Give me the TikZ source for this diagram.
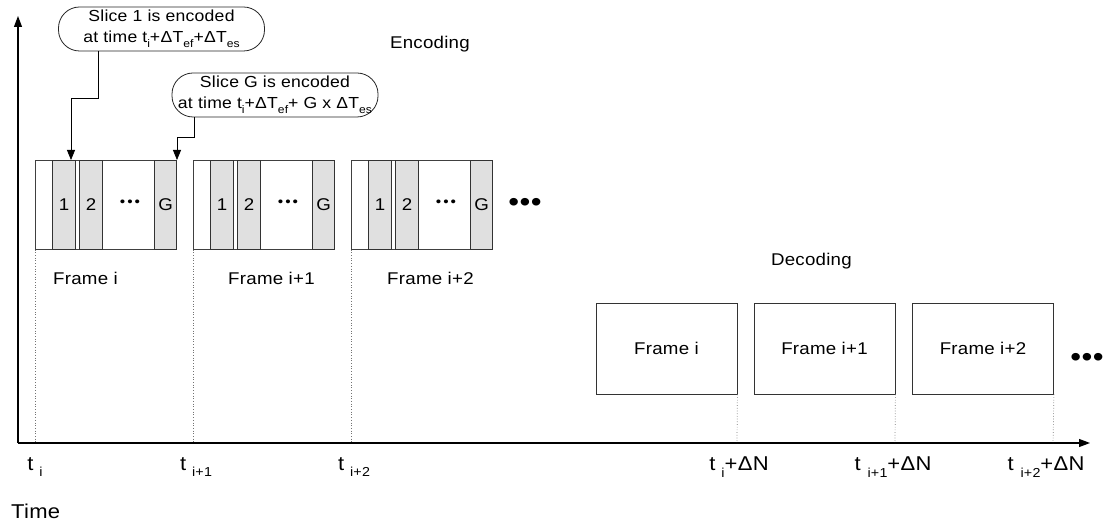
\documentclass[tikz,border=0pt]{standalone}
\usepackage{fontspec}
\setmainfont{Liberation Sans}
\newfontfamily\lbl{Liberation Sans}[FakeStretch=1.1, LetterSpace=1.5]
\usetikzlibrary{arrows.meta}
\newcommand\lsub[1]{\raisebox{-0.55ex}{\fontsize{11}{11}\selectfont #1}}
\newcommand\tsub[1]{\raisebox{-0.6ex}{\fontsize{13}{13}\selectfont #1}}
\tikzset{
 ax/.style={line width=1.1pt, -{Triangle[length=11pt,width=8pt]}},
 frm/.style={draw=black!75, line width=0.7pt, minimum width=141pt, minimum height=89pt, inner sep=0pt, anchor=north west},
 slc/.style={draw=black!80, line width=1.1pt, fill=black!12, minimum width=23pt, minimum height=89pt, inner sep=0pt, anchor=north west, font=\lbl\fontsize{17}{17}\selectfont},
 dec/.style={draw=black!80, line width=0.8pt, minimum width=141pt, minimum height=91pt, inner sep=0pt, font=\lbl\fontsize{17}{17}\selectfont},
 dotl/.style={black!55, dotted, line width=0.7pt},
 call/.style={draw=black!85, line width=0.8pt, rounded corners=21pt, minimum width=206pt, minimum height=44pt, inner sep=0pt, align=center, font=\lbl\fontsize{16}{21}\selectfont},
 ptr/.style={line width=0.8pt, -{Triangle[length=10pt,width=8pt]}},
 lab/.style={font=\lbl\fontsize{17}{17}\selectfont, inner sep=0pt},
 tick/.style={font=\lbl\fontsize{20}{20}\selectfont, inner sep=0pt, anchor=north},
}
\begin{document}
\begin{tikzpicture}[x=1pt,y=-1pt]
\useasboundingbox (0,0) rectangle (1105,526);
% axes
\coordinate (O) at (18,443);
\coordinate (xe) at (1090,443);
\coordinate (ye) at (18,16);
\draw[ax] (O) -- (xe);
\draw[ax] (O) -- (ye);
% axis points
\coordinate (t1) at (35,443);
\coordinate (t2) at (193,443);
\coordinate (t3) at (351,443);
\coordinate (u1) at (737,443);
\coordinate (u2) at (895,443);
\coordinate (u3) at (1053,443);
% encoding frames
\foreach \n/\L in {1/35, 2/193, 3/351} {
  \node[frm] (fr\n) at (\L,160) {};
  \node[slc] (sa\n) at (\L+17,160) {1};
  \node[slc] (sb\n) at (\L+44,160) {2};
  \node[slc, minimum width=22pt] (sg\n) at (\L+119,160) {G};
  \node[lab] (dots\n) at (\L+95,203) {\fontsize{14}{14}\selectfont\textbullet\hspace{2pt}\textbullet\hspace{2pt}\textbullet};
  \draw[dotl] (fr\n.south west) -- (t\n);
}
\node[lab, anchor=west] (fl1) at (53,278) {Frame i};
\node[lab, anchor=west] (fl2) at (228,278) {Frame i+1};
\node[lab, anchor=west] (fl3) at (387,278) {Frame i+2};
\node[lab] (more1) at (525,205) {\fontsize{28}{28}\selectfont\textbullet\textbullet\textbullet};
\node[lab, anchor=base east] (enc) at (470,49) {Encoding};
% callouts
\node[call] (c1) at (161.5,29) {Slice 1 is encoded\\at time t\lsub{i}+ΔT\lsub{ef}+ΔT\lsub{es}};
\node[call] (c2) at (275,95) {Slice G is encoded\\at time t\lsub{i}+ΔT\lsub{ef}+ G x ΔT\lsub{es}};
\coordinate (k1) at (98,98);
\coordinate (a1) at (71,160);
\coordinate (k2) at (194,137);
\coordinate (a2) at (177,160);
\draw[ptr] (c1.south -| k1) -- (k1) -| (a1);
\draw[ptr] (c2.south -| k2) -- (k2) -| (a2);
% decoding
\node[lab, anchor=base east] (decl) at (852,266) {Decoding};
\node[dec] (d1) at (666.5,348.5) {Frame i};
\node[dec] (d2) at (824.5,348.5) {Frame i+1};
\node[dec] (d3) at (983,348.5) {Frame i+2};
\draw[dotl] (d1.south east) -- (u1);
\draw[dotl] (d2.south east) -- (u2);
\draw[dotl] (d3.south east) -- (u3);
\node[lab] (more2) at (1087,360) {\fontsize{28}{28}\selectfont\textbullet\textbullet\textbullet};
% tick labels
\node[tick] (lt1) at (35,457) {t\hspace{6pt}\tsub{i}};
\node[tick] (lt2) at (196,457) {t\hspace{6pt}\tsub{i+1}};
\node[tick] (lt3) at (354,457) {t\hspace{6pt}\tsub{i+2}};
\node[tick] (lu1) at (739,457) {t\hspace{6pt}\tsub{i}+ΔN};
\node[tick] (lu2) at (893,457) {t\hspace{7pt}\tsub{i+1}+ΔN};
\node[tick] (lu3) at (1046,457) {t\hspace{7pt}\tsub{i+2}+ΔN};
\node[lab, anchor=west, font=\lbl\fontsize{20}{20}\selectfont] (time) at (11,511) {Time};
\end{tikzpicture}
\end{document}
